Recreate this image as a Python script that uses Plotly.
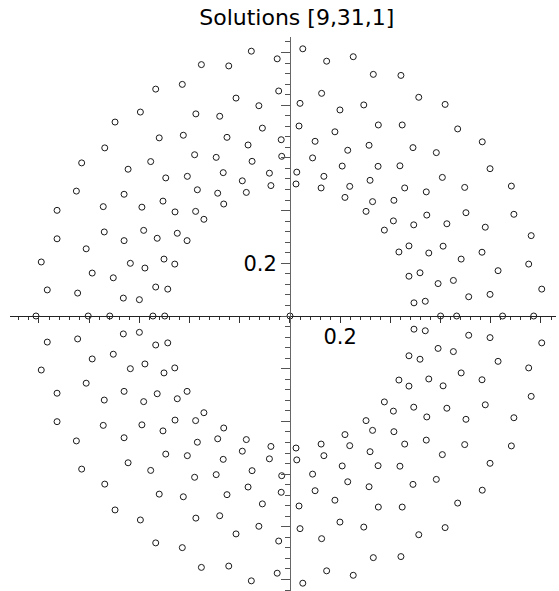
import plotly.graph_objects as go

# real roots (on the horizontal axis)
real_roots = [-1.012, -0.804, -0.718, -0.546, -0.499, 0.0, 0.600, 0.664, 0.847, 0.971]

# complex roots in the upper half plane; their conjugates are the lower half
upper_re = [
    -0.535, -0.429, -0.596, -0.697, -0.521, -0.425, -0.738, -0.830, -0.645, -0.555,
    -0.495, -0.409, -0.851, -0.661, -0.506, -0.928, -0.744, -0.590, -0.458,
    -0.928, -0.812, -0.740, -0.661, -0.583, -0.529, -0.449, -0.410, -0.991, -0.788,
    -0.704, -0.636, -0.578, -0.502, -0.459, -0.967, -0.846, -0.664, -0.600, -0.535, -0.487,
    -0.154, -0.353, -0.244, -0.051, 0.051, 0.146, 0.252, 0.332, -0.045, -0.215,
    -0.124, 0.040, 0.126, 0.199, 0.294, -0.375, -0.280, -0.110, 0.036, -0.251,
    -0.167, -0.035, 0.100, 0.179, 0.315, -0.380, -0.294, -0.151, -0.033, 0.090,
    0.230, 0.208, -0.266, -0.190, -0.082, 0.027, 0.135, 0.319, -0.369, -0.288,
    -0.174, -0.076, 0.024, 0.124, 0.238, 0.219, -0.264, -0.376, -0.343, 0.303, 0.329,
    0.442, 0.513, 0.618, 0.352, 0.447, 0.668, 0.490, 0.583, 0.766, 0.351,
    0.438, 0.797, 0.607, 0.457, 0.543, 0.696, 0.882, 0.414, 0.545, 0.701, 0.892, 0.412,
    0.376, 0.493, 0.625, 0.778, 0.961, 0.434, 0.474, 0.553, 0.610, 0.682,
    0.765, 0.951, 0.474, 0.518, 0.590, 0.651, 0.829, 1.003, 0.494, 0.539, 0.712, 0.797,
]
upper_im = [
    0.861, 0.879, 0.774, 0.736, 0.676, 0.686, 0.638, 0.581, 0.557, 0.586,
    0.524, 0.530, 0.474, 0.462, 0.436, 0.401, 0.415, 0.413, 0.395,
    0.293, 0.255, 0.319, 0.286, 0.325, 0.295, 0.314, 0.286, 0.205, 0.163,
    0.145, 0.200, 0.182, 0.216, 0.197, 0.099, 0.087, 0.068, 0.062, 0.110, 0.102,
    1.005, 0.954, 0.949, 0.976, 1.014, 0.967, 0.984, 0.917, 0.854, 0.827,
    0.798, 0.807, 0.845, 0.782, 0.801, 0.767, 0.758, 0.713, 0.721, 0.678,
    0.649, 0.669, 0.663, 0.699, 0.648, 0.612, 0.602, 0.587, 0.606, 0.600,
    0.629, 0.569, 0.544, 0.513, 0.542, 0.546, 0.530, 0.515, 0.479, 0.466,
    0.469, 0.495, 0.501, 0.486, 0.492, 0.450, 0.425, 0.397, 0.367, 0.397, 0.434,
    0.913, 0.830, 0.803, 0.725, 0.725, 0.710, 0.639, 0.620, 0.661, 0.568,
    0.570, 0.559, 0.526, 0.486, 0.471, 0.488, 0.493, 0.439, 0.383, 0.392, 0.386, 0.361,
    0.326, 0.346, 0.350, 0.337, 0.305, 0.243, 0.266, 0.239, 0.265, 0.216,
    0.242, 0.197, 0.151, 0.164, 0.123, 0.135, 0.172, 0.102, 0.050, 0.056, 0.073, 0.082,
]

x_range = [-1.1155, 1.0598]
y_range = [-1.0436, 1.0588]
major = [-1.0, -0.8, -0.6, -0.4, -0.2, 0.0, 0.2, 0.4, 0.6, 0.8, 1.0]
labels = ["0.2" if v == 0.2 else "" for v in major]

xs = real_roots + upper_re + upper_re
ys = [0.0] * len(real_roots) + upper_im + [-v for v in upper_im]

fig = go.Figure(go.Scatter(
    x=xs, y=ys, mode="markers",
    marker=dict(symbol="circle-open", size=6, color="#1a1a1a", line=dict(width=1)),
    hoverinfo="x+y",
))

font_family = "DejaVu Sans, Verdana, sans-serif"
axis_font = dict(family=font_family, size=21, color="black")

fig.update_xaxes(
    range=x_range, anchor="free",
    position=(0 - y_range[0]) / (y_range[1] - y_range[0]),
    showgrid=False, zeroline=False, showline=True, linecolor="#222", linewidth=1,
    ticks="outside", ticklen=6, tickwidth=1, tickcolor="#333",
    tickmode="array", tickvals=major, ticktext=labels, tickfont=axis_font,
    ticklabelstandoff=-4,
    minor=dict(ticks="outside", ticklen=3, tickwidth=1, tickcolor="#333",
               dtick=0.04, tick0=0, showgrid=False),
)
fig.update_yaxes(
    range=y_range, anchor="free",
    position=(0 - x_range[0]) / (x_range[1] - x_range[0]),
    showgrid=False, zeroline=False, showline=True, linecolor="#666", linewidth=1,
    ticks="outside", ticklen=9, tickwidth=1, tickcolor="#555",
    tickmode="array", tickvals=major, ticktext=labels, tickfont=axis_font,
    minor=dict(ticks="outside", ticklen=5, tickwidth=1, tickcolor="#555",
               dtick=0.04, tick0=0, showgrid=False),
)

fig.update_layout(
    width=559, height=591,
    margin=dict(l=10, r=3, t=37, b=0),
    paper_bgcolor="white", plot_bgcolor="white",
    showlegend=False,
    title=dict(text="Solutions [9,31,1]", x=0.531, xanchor="center",
               y=0.9704, yanchor="middle", yref="container",
               font=dict(family=font_family, size=22, color="black")),
)

# drop the page's default body margin so the figure fills the window
fig.write_html("out.html", config={"displayModeBar": False},
               post_script="document.body.style.margin = '0';")
